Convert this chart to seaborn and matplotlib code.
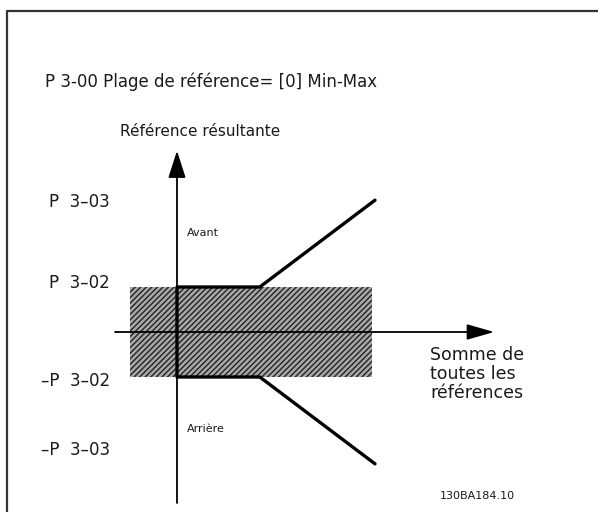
import matplotlib
matplotlib.use("Agg")
import matplotlib.pyplot as plt
import pandas as pd
import seaborn as sns

# reference levels (P 3-02 = 1 unit)
P302 = 1.0
P303 = 2.93
KNEE = 1.84
X_END = 4.4

sum_fwd = [0.0, 0.0, KNEE, X_END]
ref_fwd = [0.0, P302, P302, P303]
sum_rev = [0.0, 0.0, KNEE, X_END]
ref_rev = [0.0, -P302, -P302, -P303]

band_x = [-1.04, 4.33]
band_y = [-P302, P302]

level_labels = ["P  3\u201303", "P  3\u201302", "\u2013P  3\u201302", "\u2013P  3\u201303"]
level_label_y = [2.89, 1.09, -1.09, -2.62]

sns.set_theme(style="white")
plt.rcParams["font.family"] = ["DejaVu Sans"]
plt.rcParams["hatch.linewidth"] = 1.0

fig = plt.figure(figsize=(5.98, 5.12), dpi=100)
ax = fig.add_axes([0, 0, 1, 1])
unit = 45.0
ax.set_xlim(-177 / unit, (598 - 177) / unit)
ax.set_ylim(-(512 - 332) / unit, 332 / unit)

# frame (left and top edges)
ax.plot([0.011, 0.011, 1.0], [0.0, 0.979, 0.979], transform=ax.transAxes,
        color="#333333", lw=1.6, solid_capstyle="butt")

# hatched dead band
ax.fill_between(band_x, band_y[0], band_y[1], facecolor="#a8a8a8",
                edgecolor="#222222", hatch="//////", linewidth=0, zorder=1)

# axes with arrows
ax.plot([0, 0], [-3.8, 3.6], color="black", lw=1.3, zorder=2)
ax.annotate("", xy=(0, 4.09), xytext=(0, 3.4),
            arrowprops=dict(arrowstyle="-|>,head_length=1.4,head_width=0.45",
                            color="black", lw=1.3))
ax.plot([-1.38, 6.6], [0, 0], color="black", lw=1.3, zorder=2)
ax.annotate("", xy=(7.11, 0), xytext=(6.4, 0),
            arrowprops=dict(arrowstyle="-|>,head_length=1.4,head_width=0.4",
                            color="black", lw=1.3))

# characteristic curves
df = pd.DataFrame({"x": sum_fwd + sum_rev, "y": ref_fwd + ref_rev,
                   "branch": ["fwd"] * 4 + ["rev"] * 4})
sns.lineplot(data=df, x="x", y="y", units="branch", estimator=None, sort=False,
             color="black", lw=2.4, ax=ax, zorder=3)
ax.set_axis_off()

# texts
txt = "#1a1a1a"
ax.text(-2.93, 5.56, "P 3-00 Plage de r\u00e9f\u00e9rence= [0] Min-Max",
        fontsize=12, color=txt, va="center", ha="left")
ax.text(-1.27, 4.45, "R\u00e9f\u00e9rence r\u00e9sultante", fontsize=11,
        color=txt, va="center", ha="left")
for lab, yy in zip(level_labels, level_label_y):
    ax.text(-1.49, yy, lab, fontsize=12, color=txt, va="center", ha="right")
ax.text(0.22, 2.19, "Avant", fontsize=8, color=txt, va="center", ha="left")
ax.text(0.22, -2.15, "Arri\u00e8re", fontsize=8, color=txt, va="center", ha="left")
ax.text(5.62, -0.93, "Somme de\ntoutes les\nr\u00e9f\u00e9rences", fontsize=12.5,
        color=txt, va="center", ha="left", linespacing=1.05)
ax.text(5.85, -3.65, "130BA184.10", fontsize=8, color=txt, va="center", ha="left")

fig.savefig("out.png", dpi=100)
